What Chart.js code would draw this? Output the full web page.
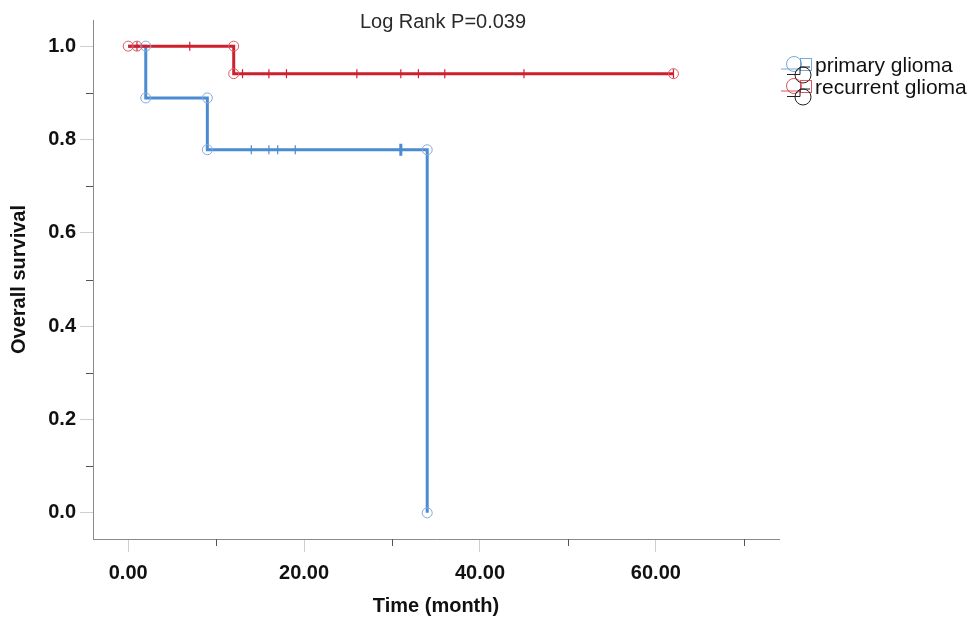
<!DOCTYPE html>
<html lang="en">
<head>
  <meta charset="UTF-8">
  <title>Overall survival</title>
  <script src="https://cdn.jsdelivr.net/npm/chart.js"></script>
  <style>
    html, body {
      margin: 0;
      padding: 0;
      background: #ffffff;
    }
    #wrap {
      width: 969px;
      height: 619px;
    }
  </style>
</head>
<body>
  <div id="wrap"><canvas id="kmChart" width="969" height="619"></canvas></div>

  <script>
    // survival steps
    const blueTime = [0, 2, 9, 34];
    const blueSurv = [1.0, 0.889, 0.778, 0.0];
    const redTime = [0, 12, 62];
    const redSurv = [1.0, 0.941, 0.941];

    // open circles at the step corners
    const blueEventTime = [2, 2, 9, 9, 34, 34];
    const blueEventSurv = [1.0, 0.889, 0.889, 0.778, 0.778, 0.0];
    const redEventTime = [0, 1, 12, 12, 62];
    const redEventSurv = [1.0, 1.0, 1.0, 0.941, 0.941];

    // censored cases
    const blueCensorTime = [14, 16, 17, 19, 31];
    const blueCensorSurv = [0.778, 0.778, 0.778, 0.778, 0.778];
    const redCensorTime = [1, 7, 13, 16, 18, 26, 31, 33, 36, 45, 62];
    const redCensorSurv = [1.0, 1.0, 0.941, 0.941, 0.941, 0.941, 0.941, 0.941, 0.941, 0.941, 0.941];

    const xMajor = [0, 20, 40, 60];
    const xMinor = [10, 30, 50, 70];
    const yMajor = [0, 0.2, 0.4, 0.6, 0.8, 1.0];
    const yMinor = [0.1, 0.3, 0.5, 0.7, 0.9];

    const groups = ['primary glioma', 'recurrent glioma'];
    const titleText = 'Log Rank P=0.039';

    const BLUE = '#4a8bd1';
    const RED = '#cf1f2e';

    function pts(xs, ys) {
      return xs.map((x, i) => ({ x: x, y: ys[i] }));
    }

    // minor ticks, chart title and the SPSS-style legend
    const extras = {
      id: 'extras',
      afterDraw(chart) {
        const ctx = chart.ctx;
        const xs = chart.scales.x, ys = chart.scales.y;
        const area = chart.chartArea;
        ctx.save();
        ctx.strokeStyle = '#555';
        ctx.lineWidth = 1;
        xMinor.forEach(v => {
          const px = Math.round(xs.getPixelForValue(v)) + 0.5;
          ctx.beginPath();
          ctx.moveTo(px, area.bottom);
          ctx.lineTo(px, area.bottom + 7);
          ctx.stroke();
        });
        yMinor.forEach(v => {
          const py = Math.round(ys.getPixelForValue(v)) + 0.5;
          ctx.beginPath();
          ctx.moveTo(area.left - 7, py);
          ctx.lineTo(area.left, py);
          ctx.stroke();
        });

        ctx.fillStyle = '#2a2a2a';
        ctx.font = '20px "Liberation Sans", Arial, sans-serif';
        ctx.textAlign = 'center';
        ctx.textBaseline = 'alphabetic';
        ctx.fillText(titleText, 443, 28);

        const cols = [BLUE, RED];
        groups.forEach((name, i) => {
          const y = 69 + i * 22;
          ctx.lineWidth = 1;
          ctx.strokeStyle = cols[i];
          ctx.globalAlpha = 0.75;
          ctx.beginPath();
          ctx.moveTo(781, y);
          ctx.lineTo(800, y);
          ctx.stroke();
          ctx.beginPath();
          ctx.arc(794, y - 5, 7.5, 0, Math.PI * 2);
          ctx.stroke();
          ctx.strokeRect(800.5, y - 10.5, 11, 12);
          ctx.globalAlpha = 1;
          ctx.strokeStyle = '#222';
          ctx.beginPath();
          ctx.moveTo(787, y + 5.5);
          ctx.lineTo(800, y + 5.5);
          ctx.lineTo(800, y - 2);
          ctx.lineTo(810, y - 2);
          ctx.stroke();
          ctx.beginPath();
          ctx.arc(803, y + 6, 8, 0, Math.PI * 2);
          ctx.stroke();
          ctx.fillStyle = '#111';
          ctx.textAlign = 'left';
          ctx.font = '21px "Liberation Sans", Arial, sans-serif';
          ctx.fillText(name, 815, y + 3);
        });
        ctx.restore();
      }
    };

    const boldFont = { family: '"Liberation Sans", Arial, sans-serif', size: 20, weight: 'bold' };

    new Chart(document.getElementById('kmChart'), {
      type: 'line',
      data: {
        datasets: [
          {
            label: 'recurrent censored',
            data: pts(redCensorTime, redCensorSurv),
            showLine: false,
            pointStyle: 'line',
            rotation: 90,
            pointRadius: 4.5,
            pointBorderWidth: 1.2,
            pointBorderColor: RED,
            order: 0
          },
          {
            label: 'primary censored',
            data: pts(blueCensorTime, blueCensorSurv),
            showLine: false,
            pointStyle: 'line',
            rotation: 90,
            pointRadius: ctx => ctx.dataIndex === 4 ? 6 : 4.5,
            pointBorderWidth: ctx => ctx.dataIndex === 4 ? 3 : 1.2,
            pointBorderColor: BLUE,
            order: 0
          },
          {
            label: 'recurrent events',
            data: pts(redEventTime, redEventSurv),
            showLine: false,
            pointStyle: 'circle',
            pointRadius: 5,
            pointBorderWidth: 1,
            pointBorderColor: '#e2575f',
            pointBackgroundColor: 'rgba(0,0,0,0)',
            order: 0
          },
          {
            label: 'primary events',
            data: pts(blueEventTime, blueEventSurv),
            showLine: false,
            pointStyle: 'circle',
            pointRadius: 5,
            pointBorderWidth: 1,
            pointBorderColor: '#86a9dc',
            pointBackgroundColor: 'rgba(0,0,0,0)',
            order: 0
          },
          {
            label: groups[1],
            data: pts(redTime, redSurv),
            stepped: 'before',
            borderColor: RED,
            borderWidth: 3,
            pointRadius: 0,
            fill: false,
            order: 1
          },
          {
            label: groups[0],
            data: pts(blueTime, blueSurv),
            stepped: 'before',
            borderColor: BLUE,
            borderWidth: 3,
            pointRadius: 0,
            fill: false,
            order: 2
          }
        ]
      },
      options: {
        responsive: false,
        animation: false,
        layout: {
          padding: { top: 20, right: 190, left: 0, bottom: 0 }
        },
        plugins: {
          legend: { display: false },
          tooltip: { enabled: false }
        },
        scales: {
          x: {
            type: 'linear',
            min: -4,
            max: 74,
            afterBuildTicks: s => { s.ticks = xMajor.map(v => ({ value: v })); },
            afterFit: s => { s.height = 80; },
            ticks: {
              autoSkip: false,
              maxRotation: 0,
              padding: 9,
              color: '#111',
              font: boldFont,
              callback: v => v.toFixed(2)
            },
            grid: {
              drawOnChartArea: false,
              drawTicks: true,
              tickLength: 13,
              color: '#cfcfcf'
            },
            border: { color: '#8a8a8a', width: 1 },
            title: {
              display: true,
              text: 'Time (month)',
              color: '#111',
              font: boldFont,
              padding: { top: 0, bottom: 1 }
            }
          },
          y: {
            type: 'linear',
            min: -0.056,
            max: 1.056,
            afterBuildTicks: s => { s.ticks = yMajor.map(v => ({ value: v })); },
            afterFit: s => { s.width = 93; },
            ticks: {
              padding: 4,
              color: '#111',
              font: boldFont,
              callback: v => v.toFixed(1)
            },
            grid: {
              drawOnChartArea: false,
              drawTicks: true,
              tickLength: 13,
              color: '#cfcfcf'
            },
            border: { color: '#8a8a8a', width: 1 },
            title: {
              display: true,
              text: 'Overall survival',
              color: '#111',
              font: boldFont,
              padding: { top: 7, bottom: 0 }
            }
          }
        }
      },
      plugins: [extras]
    });
  </script>
</body>
</html>
